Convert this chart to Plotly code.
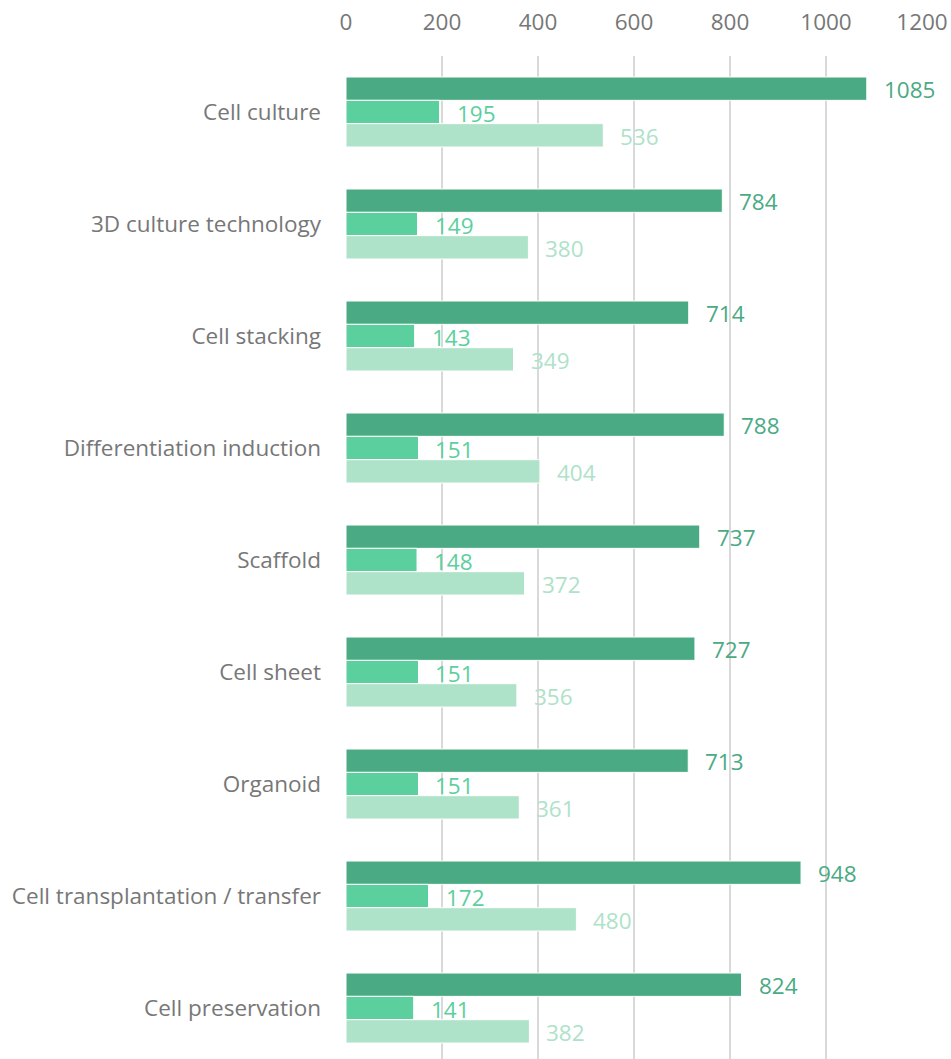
import plotly.graph_objects as go

categories = [
    "Cell culture",
    "3D culture technology",
    "Cell stacking",
    "Differentiation induction",
    "Scaffold",
    "Cell sheet",
    "Organoid",
    "Cell transplantation / transfer",
    "Cell preservation",
]
series_a = [1085, 784, 714, 788, 737, 727, 713, 948, 824]
series_b = [195, 149, 143, 151, 148, 151, 151, 172, 141]
series_c = [536, 380, 349, 404, 372, 356, 361, 480, 382]
x_ticks = [0, 200, 400, 600, 800, 1000, 1200]

colors = ["#4aaa84", "#5ccf9e", "#aee2c9"]
series = [series_a, series_b, series_c]

W, H = 951, 1059
m_l, m_r, m_t, m_b = 346, 29, 56, 0
plot_h = H - m_t - m_b
y_lo, y_hi = -0.5, 8.455
px_per_cat = plot_h / (y_hi - y_lo)
bargap = 0.375
bar_px = px_per_cat * (1 - bargap) / 3

font = "Open Sans, Noto Sans, sans-serif"
fsize = 22.5

fig = go.Figure()
for vals, col in zip(series, colors):
    fig.add_trace(go.Bar(
        x=vals, y=categories, orientation="h",
        marker=dict(color=col, line=dict(color="white", width=1)),
        showlegend=False, hoverinfo="x+y",
    ))

# value labels to the right of each bar, in the bar's colour
annotations = []
for i, (vals, col) in enumerate(zip(series, colors)):
    shift = (1 - i) * bar_px
    for cat, v in zip(categories, vals):
        annotations.append(dict(
            x=v, y=cat, xref="x", yref="y", text=str(v),
            showarrow=False, xanchor="left", yanchor="middle",
            xshift=15, yshift=shift - 1,
            font=dict(family=font, size=fsize, color=col),
        ))

fig.update_layout(
    width=W, height=H,
    margin=dict(l=m_l, r=m_r, t=m_t, b=m_b),
    paper_bgcolor="white", plot_bgcolor="white",
    barmode="group", bargap=bargap, bargroupgap=0,
    annotations=annotations,
    xaxis=dict(
        side="top", range=[0, 1200], tickvals=x_ticks,
        showgrid=True, gridcolor="#d9d9d9", gridwidth=1.5,
        zeroline=False, showline=False,
        tickfont=dict(family=font, size=fsize, color="#777777"),
        ticklabelstandoff=21,
    ),
    yaxis=dict(
        type="category", range=[y_hi, y_lo],
        showgrid=False, zeroline=False, showline=False,
        tickfont=dict(family=font, size=fsize, color="#777777"),
        ticklabelstandoff=24,
    ),
)

fig.write_html("out.html")
